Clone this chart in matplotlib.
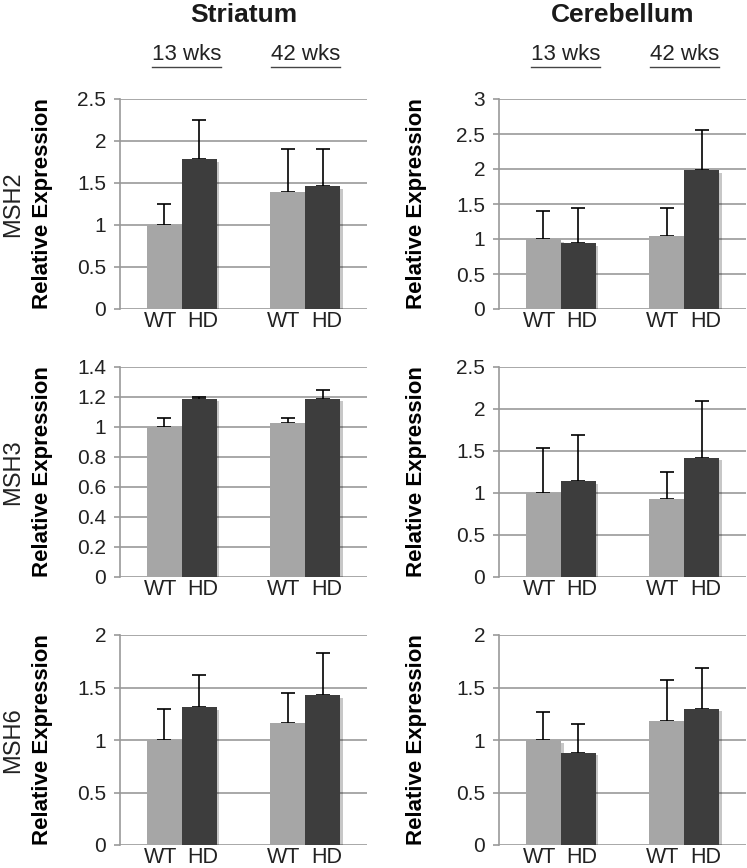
import matplotlib
matplotlib.use("Agg")
import matplotlib.pyplot as plt
import matplotlib.patheffects as pe
from matplotlib.lines import Line2D

plt.rcParams["font.family"] = ["Liberation Sans", "DejaVu Sans"]

# gene rows, region columns
genes = ["MSH2", "MSH3", "MSH6"]
regions = ["Striatum", "Cerebellum"]
ages = ["13 wks", "42 wks"]

# mean expression (13 wks, 42 wks) for WT and HD, per gene and region
wt_striatum = [[1.00, 1.39], [1.00, 1.03], [1.00, 1.16]]
hd_striatum = [[1.78, 1.46], [1.19, 1.19], [1.31, 1.43]]
wt_cerebellum = [[1.00, 1.04], [1.00, 0.93], [1.00, 1.18]]
hd_cerebellum = [[0.94, 1.98], [1.14, 1.42], [0.88, 1.30]]

# upper error bars (only the upper arm is drawn)
wt_err_striatum = [[0.25, 0.51], [0.06, 0.03], [0.30, 0.29]]
hd_err_striatum = [[0.47, 0.45], [0.01, 0.06], [0.31, 0.40]]
wt_err_cerebellum = [[0.40, 0.40], [0.53, 0.32], [0.27, 0.39]]
hd_err_cerebellum = [[0.51, 0.58], [0.55, 0.68], [0.27, 0.39]]

# y-axis limits and tick step per panel
ymax = [[2.5, 3.0], [1.4, 2.5], [2.0, 2.0]]
ystep = [[0.5, 0.5], [0.2, 0.5], [0.5, 0.5]]

wt_col = "#a6a6a6"
hd_col = "#3d3d3d"
grid_col = "#999999"

W, H = 747, 868
fig = plt.figure(figsize=(W / 100, H / 100), dpi=100)

col_left = [120, 499]
ax_w = 247
row_top = [99, 367, 635]
ax_h = 210

data = {
    "Striatum": (wt_striatum, hd_striatum, wt_err_striatum, hd_err_striatum),
    "Cerebellum": (wt_cerebellum, hd_cerebellum, wt_err_cerebellum, hd_err_cerebellum),
}

bw = 0.283
shadow = [pe.SimplePatchShadow(offset=(2, -2), shadow_rgbFace="#000000", alpha=0.22), pe.Normal()]

for r, gene in enumerate(genes):
    for c, region in enumerate(regions):
        wt, hd, wte, hde = data[region]
        ax = fig.add_axes([col_left[c] / W, 1 - (row_top[r] + ax_h) / H, ax_w / W, ax_h / H])
        x = [0, 1]
        xw = [i - bw / 2 for i in x]
        xh = [i + bw / 2 for i in x]

        ax.errorbar(xw, wt[r], yerr=[[0, 0], wte[r]], fmt="none", ecolor="black",
                    elinewidth=1.2, capsize=5, capthick=1.2, zorder=2)
        ax.errorbar(xh, hd[r], yerr=[[0, 0], hde[r]], fmt="none", ecolor="black",
                    elinewidth=1.2, capsize=5, capthick=1.2, zorder=2)
        b1 = ax.bar(xw, wt[r], width=bw, color=wt_col, zorder=3)
        b2 = ax.bar(xh, hd[r], width=bw, color=hd_col, zorder=3)
        for p in list(b1) + list(b2):
            p.set_path_effects(shadow)

        ax.set_xlim(-0.5, 1.5)
        ax.set_ylim(0, ymax[r][c])
        n = int(round(ymax[r][c] / ystep[r][c]))
        ticks = [i * ystep[r][c] for i in range(n + 1)]
        ax.set_yticks(ticks)
        ax.set_yticklabels(["%g" % t for t in ticks])
        ax.yaxis.grid(True, color=grid_col, linewidth=1.2)
        ax.set_axisbelow(True)
        for s in ["top", "right", "bottom"]:
            ax.spines[s].set_visible(False)
        ax.spines["left"].set_color(grid_col)
        ax.spines["left"].set_linewidth(1.2)
        ax.tick_params(axis="y", length=4, width=1.2, color=grid_col, pad=6, labelsize=15,
                       labelcolor="#222222")
        # labels sit a little outward from the bar centres
        ax.set_xticks([p - 0.03 for p in xw] + [p + 0.03 for p in xh])
        ax.set_xticklabels(["WT", "WT", "HD", "HD"])
        ax.tick_params(axis="x", length=0, pad=1.5, labelsize=15.5, labelcolor="#222222")
        ax.set_ylabel("Relative Expression", fontsize=16, fontweight="bold")
        ax.yaxis.set_label_coords(-0.27 if c == 0 else -0.29, 0.5)

        if r == 0:
            for i, age in enumerate(ages):
                ax.annotate(age, xy=(0.04 if i == 0 else 1.0, 1 - 55 / H),
                            xycoords=("data", "figure fraction"),
                            ha="center", va="center", fontsize=16, color="#222222")
            ax.annotate(region, xy=(0.5, 1 - 15 / H), xycoords=("axes fraction", "figure fraction"),
                        ha="center", va="center", fontsize=19, fontweight="bold",
                        color="#1a1a1a")
        if c == 0:
            fig.text(13 / W, 1 - (row_top[r] + ax_h / 2) / H, gene, rotation=90,
                     ha="center", va="center", fontsize=17, color="#222222")

# underline the age labels
fig.canvas.draw()
rend = fig.canvas.get_renderer()
for t in [a for ax in fig.axes for a in ax.texts if a.get_text() in ages]:
    bb = t.get_window_extent(rend)
    y = bb.y0 - 1
    fig.add_artist(Line2D([bb.x0 / W, bb.x1 / W], [y / H, y / H], color="#444444", linewidth=1.0))

fig.savefig("out.png", dpi=100)
